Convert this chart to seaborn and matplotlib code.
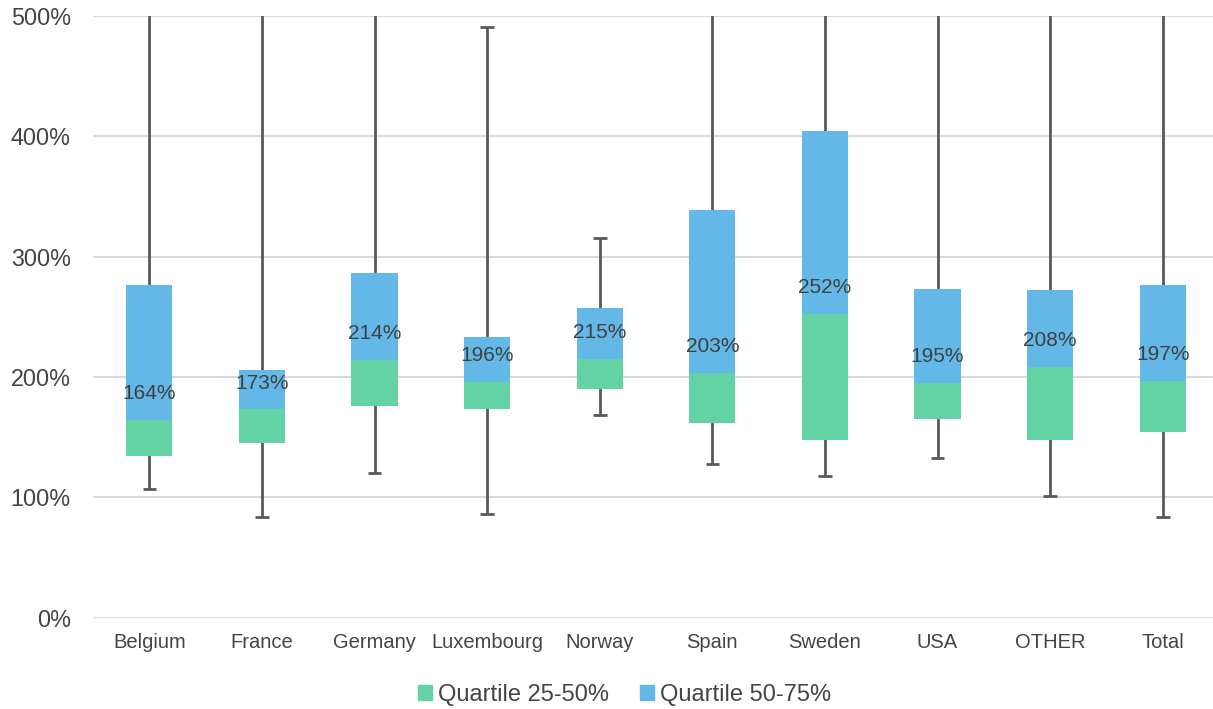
import matplotlib
matplotlib.use("Agg")
import matplotlib.pyplot as plt
import numpy as np
import pandas as pd
import seaborn as sns
from matplotlib.patches import Patch
from matplotlib.ticker import FuncFormatter

countries = ["Belgium", "France", "Germany", "Luxembourg", "Norway",
             "Spain", "Sweden", "USA", "OTHER", "Total"]
q1     = [134, 145, 176, 173, 190, 162, 148, 165, 148, 154]
median = [164, 173, 214, 196, 215, 203, 252, 195, 208, 197]
q3     = [276, 206, 286, 233, 257, 339, 404, 273, 272, 276]
low    = [107, 84, 120, 86, 168, 128, 118, 133, 101, 84]
high   = [600, 600, 600, 491, 315, 600, 600, 600, 600, 600]  # >500 runs off the chart

GREEN = "#63D3A6"
BLUE = "#63B8E8"
WHISK = "#595959"
TXT = "#444444"

sns.set_theme(style="white")
plt.rcParams["font.family"] = ["Liberation Sans", "DejaVu Sans"]

df = pd.DataFrame({"country": countries, "q1": q1, "median": median,
                   "q3": q3, "low": low, "high": high})
df["lower"] = df["median"] - df["q1"]
df["upper"] = df["q3"] - df["median"]

fig = plt.figure(figsize=(12.13, 7.09), dpi=100)
ax = fig.add_axes([0.0767, 0.1288, 0.9283, 0.849])

# whiskers + caps
x = np.arange(len(df))
ax.vlines(x, df["low"], df["high"], color=WHISK, lw=2, zorder=2)
ax.hlines(df["low"], x - 0.06, x + 0.06, color=WHISK, lw=2, zorder=2)
ax.hlines(df["high"], x - 0.06, x + 0.06, color=WHISK, lw=2, zorder=2)

# boxes as stacked bars
sns.barplot(data=df, x="country", y="lower", bottom=df["q1"].values,
            color=GREEN, saturation=1, width=0.41, linewidth=0, ax=ax, zorder=3)
sns.barplot(data=df, x="country", y="upper", bottom=df["median"].values,
            color=BLUE, saturation=1, width=0.41, linewidth=0, ax=ax, zorder=3)

for i, m in enumerate(df["median"]):
    ax.annotate(f"{m}%", (i, m), xytext=(0, 19), textcoords="offset points",
                ha="center", va="center", fontsize=15, color="#404040", zorder=4)

ax.set_xlim(-0.5, 9.5)
ax.set_ylim(0, 500)
ax.set_yticks(range(0, 501, 100))
ax.yaxis.set_major_formatter(FuncFormatter(lambda v, p: f"{v:.0f}%"))
ax.set_xlabel("")
ax.set_ylabel("")
ax.grid(axis="y", color="#D9D9D9", lw=1.5, zorder=0)
ax.set_axisbelow(True)
sns.despine(ax=ax, left=True, bottom=True, top=True, right=True)
ax.tick_params(axis="y", length=0, pad=16, labelsize=16.8, labelcolor=TXT)
ax.tick_params(axis="x", length=0, pad=11, labelsize=14.5, labelcolor=TXT)

handles = [Patch(color=GREEN, label="Quartile 25-50%"),
           Patch(color=BLUE, label="Quartile 50-75%")]
fig.legend(handles=handles, loc="center", bbox_to_anchor=(0.515, 0.02), ncol=2,
           frameon=False, fontsize=17, handlelength=0.6, handleheight=0.6,
           handletextpad=0.25, columnspacing=1.3, labelcolor=TXT)

fig.savefig("out.png", dpi=100)
